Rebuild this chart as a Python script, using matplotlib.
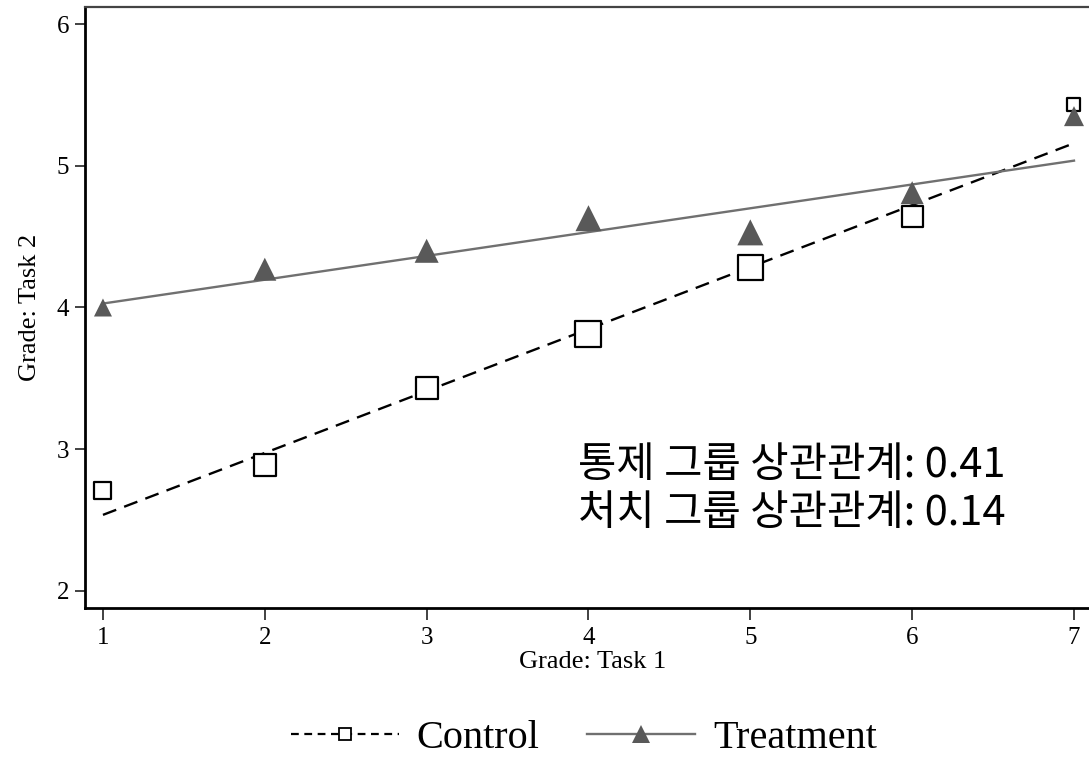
import matplotlib
matplotlib.use("Agg")
import matplotlib.pyplot as plt
from matplotlib.lines import Line2D

task1 = [1, 2, 3, 4, 5, 6, 7]
control = [2.71, 2.89, 3.43, 3.81, 4.28, 4.64, 5.43]
treatment = [4.00, 4.27, 4.40, 4.63, 4.53, 4.81, 5.35]
control_size_px = [17, 22, 22, 26, 25, 21, 13]
treatment_size_px = [18, 23, 24, 26, 26, 23, 20]
control_fit = (2.10, 0.437)     # intercept, slope
treatment_fit = (3.86, 0.168)
yticks = [2, 3, 4, 5, 6]
note_lines = ["통제 그룹 상관관계: 0.41", "처치 그룹 상관관계: 0.14"]

DPI = 100
fig = plt.figure(figsize=(10.89, 7.58), dpi=DPI)
ax = fig.add_axes([85 / 1089, 1 - 608 / 758, 1 - 85 / 1089 + 0.01, (608 - 7) / 758])

px2pt = 72 / DPI
serif = "Liberation Serif"

ax.scatter(task1, control, s=[(p * px2pt) ** 2 for p in control_size_px], marker="s",
           facecolors="white", edgecolors="black", linewidths=1.6, zorder=3)
ax.scatter(task1, treatment, s=[(p * px2pt) ** 2 for p in treatment_size_px], marker="^",
           color="#595959", linewidths=0, zorder=3)

xs = [task1[0], task1[-1]]
ax.plot(xs, [control_fit[0] + control_fit[1] * x for x in xs], ls=(0, (6, 3.6)),
        color="black", lw=1.7, zorder=2)
ax.plot(xs, [treatment_fit[0] + treatment_fit[1] * x for x in xs], ls="-",
        color="#707070", lw=1.7, zorder=2)

ax.set_xlim(0.889, 7.16)
ax.set_ylim(1.88, 6.12)
ax.set_xticks(task1)
ax.set_yticks(yticks)
ax.tick_params(axis="x", direction="out", length=8.5, width=1.3, labelsize=18, pad=5.5,
               color="#333333")
ax.tick_params(axis="y", direction="out", length=7.5, width=1.3, labelsize=18, pad=4,
               color="#333333")
for lab in ax.get_xticklabels() + ax.get_yticklabels():
    lab.set_fontfamily(serif)
ax.set_xlabel("Grade: Task 1", fontsize=19, family=serif, labelpad=1)
ax.set_ylabel("Grade: Task 2", fontsize=19, family=serif, labelpad=11)

for side in ["left", "bottom"]:
    ax.spines[side].set_linewidth(2.0)
    ax.spines[side].set_color("black")
ax.spines["top"].set_linewidth(1.6)
ax.spines["top"].set_color("#444444")
ax.spines["right"].set_visible(False)

kfam = ["Noto Sans CJK KR", "DejaVu Sans"]
fig.text(578 / 1089, 1 - 466 / 758, note_lines[0], fontsize=30, family=kfam,
         va="center", ha="left")
fig.text(578 / 1089, 1 - 514 / 758, note_lines[1], fontsize=30, family=kfam,
         va="center", ha="left")

handles = [
    Line2D([], [], ls=(0, (3.5, 2.5)), color="black", lw=1.6, marker="s", markersize=8,
           markerfacecolor="white", markeredgecolor="black", markeredgewidth=1.3),
    Line2D([], [], ls="-", color="#707070", lw=1.7, marker="^", markersize=13,
           markerfacecolor="#595959", markeredgewidth=0),
]
fig.legend(handles, ["Control", "Treatment"], loc="center", bbox_to_anchor=(0.536, 1 - 738 / 758),
           ncol=2, frameon=False, prop={"family": serif, "size": 29}, handlelength=2.68,
           columnspacing=1.17, handletextpad=0.45)

fig.savefig("out.png", dpi=DPI)
